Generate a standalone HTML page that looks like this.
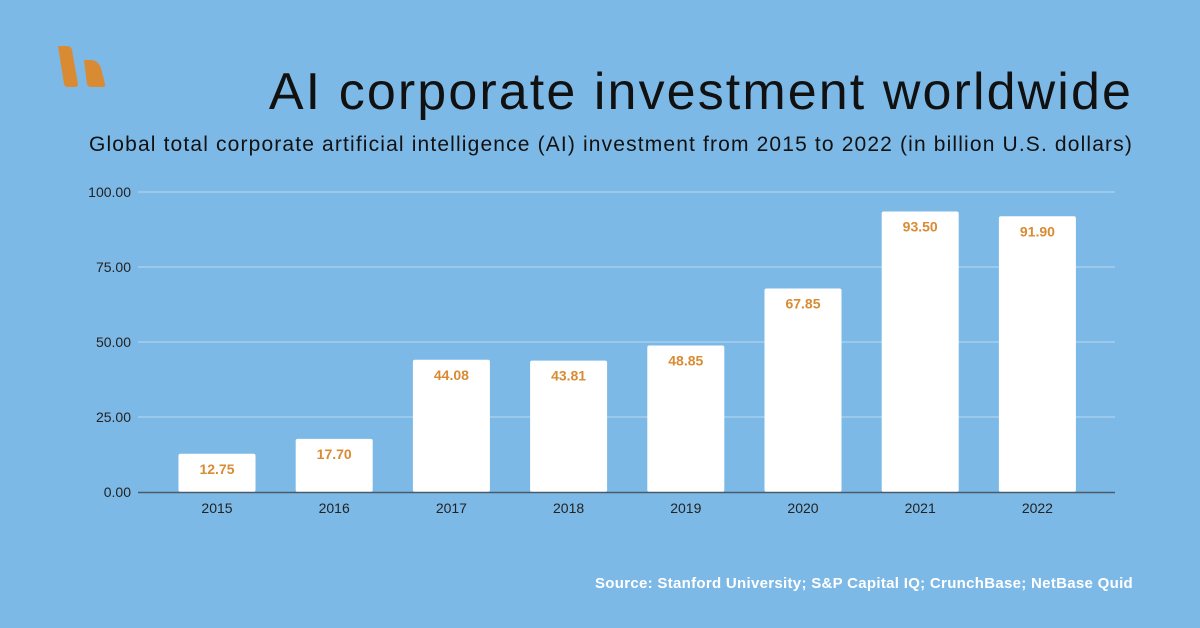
<!DOCTYPE html>
<html><head><meta charset="utf-8"><style>
body{margin:0;width:1200px;height:628px;background:#7db9e6;overflow:hidden;font-family:"Liberation Sans",sans-serif;position:relative}
.t{position:absolute;right:67px;top:62px;font-size:52px;letter-spacing:2.1px;color:#111;white-space:nowrap}
.s{position:absolute;right:67px;top:133px;font-size:21px;color:#111;white-space:nowrap;letter-spacing:1.15px}
.src{position:absolute;right:67px;top:575px;font-size:15px;color:#fff;font-weight:bold;letter-spacing:0.3px}
</style></head><body>
<svg style="position:absolute;left:0;top:0" width="120" height="100">
<path d="M58,46 L67,46 Q71,46 72,50 L78,84 Q78,87 75,87 L68,87 Q65,87 64,84 Z" fill="#d98b33"/>
<path d="M84,60 L90,60 Q98,60 101,68 L105,84 Q106,87 103,87 L91,87 Q88,87 87,84 Z" fill="#d98b33"/>
</svg>
<div class="t">AI corporate investment worldwide</div>
<div class="s">Global total corporate artificial intelligence (AI) investment from 2015 to 2022 (in billion U.S. dollars)</div>
<svg id="c" style="position:absolute;left:0;top:0" width="1200" height="628"></svg>
<div class="src">Source: Stanford University; S&amp;P Capital IQ; CrunchBase; NetBase Quid</div>
<script>
const categories=["2015","2016","2017","2018","2019","2020","2021","2022"];
const values=[12.75,17.70,44.08,43.81,48.85,67.85,93.50,91.90];
const ticks=[0,25,50,75,100];
const ns="http://www.w3.org/2000/svg";
const svg=document.getElementById('c');
const y=v=>492-v*3;
const x=i=>217+i*117.2;
function el(t,a){const e=document.createElementNS(ns,t);for(const k in a)e.setAttribute(k,a[k]);svg.appendChild(e);return e;}
ticks.forEach(t=>{
 if(t>0){const l=el('line',{x1:138,x2:1115,y1:y(t),y2:y(t),stroke:'#b9d9f2','stroke-width':1});
 
 }
 const tx=el('text',{x:131,y:y(t)+5,'text-anchor':'end','font-size':14,fill:'#222'});
 tx.textContent=t.toFixed(2);
 
 
});
values.forEach((v,i)=>{
 const r=el('rect',{x:x(i)-38.5,y:y(v),width:77,height:492-y(v),rx:2,fill:'#fff'});
 
 
 const lb=el('text',{x:x(i),y:y(v)+20,'text-anchor':'middle','font-size':14,'font-weight':'bold',fill:'#d98b33'});
 lb.textContent=v.toFixed(2);
 
 
 const xl=el('text',{x:x(i),y:513,'text-anchor':'middle','font-size':14,fill:'#222'});
 xl.textContent=categories[i];
 
 
});
const ax=el('line',{x1:138,x2:1115,y1:492.5,y2:492.5,stroke:'#4a5a66','stroke-width':1.5});


</script>
</body></html>
